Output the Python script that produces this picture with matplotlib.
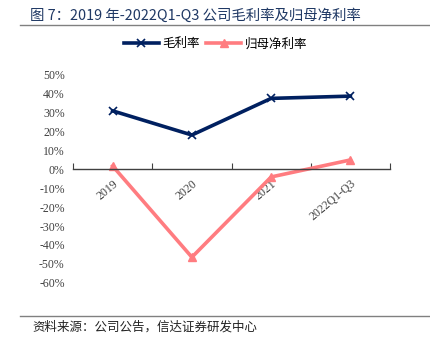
import matplotlib
matplotlib.use("Agg")
import matplotlib.pyplot as plt
from matplotlib.lines import Line2D
from matplotlib.ticker import FuncFormatter, MultipleLocator

plt.rcParams["font.family"] = ["Liberation Serif", "Noto Sans CJK SC"]

# data (percent)
categories = ["2019", "2020", "2021", "2022Q1-Q3"]
gross_margin = [31.0, 18.2, 37.6, 38.8]
net_margin = [1.8, -46.5, -4.0, 5.0]
series_names = ["毛利率", "归母净利率"]

title = "图 7：2019 年-2022Q1-Q3 公司毛利率及归母净利率"
source = "资料来源：公司公告，信达证券研发中心"

NAVY = "#002060"
PINK = "#FF7C80"
TEXT = "#404040"

fig = plt.figure(figsize=(4.31, 3.40), dpi=100)

# title + rules
fig.text(0.07, 0.955, title, fontsize=10.4, color="#1F3864",
         family=["Noto Sans CJK SC", "DejaVu Sans"], va="center", ha="left")
fig.add_artist(Line2D([0.046, 1.0], [0.926, 0.926], color="#808080", lw=1.0))
fig.add_artist(Line2D([0.046, 1.0], [0.07, 0.07], color="#808080", lw=1.0))
fig.text(0.075, 0.038, source, fontsize=9, color="#222222", style="italic",
         family=["Noto Sans CJK SC", "DejaVu Sans"], va="center", ha="left")

ax = fig.add_axes([0.1694, 0.1685, 0.7355, 0.611])
xs = [i + 0.5 for i in range(len(categories))]

l1, = ax.plot(xs, gross_margin, color=NAVY, lw=2.6, marker="x", ms=6, mew=1.2,
              label=series_names[0])
l2, = ax.plot(xs, net_margin, color=PINK, lw=2.6, marker="^", ms=6,
              label=series_names[1])

ax.set_xlim(0, len(categories))
ax.set_ylim(-60, 50)
ax.yaxis.set_major_locator(MultipleLocator(10))
ax.yaxis.set_major_formatter(FuncFormatter(lambda v, p: f"{v:.0f}%"))

for s in ["top", "right", "left"]:
    ax.spines[s].set_visible(False)
ax.spines["bottom"].set_position(("data", 0))
ax.spines["bottom"].set_color("#404040")
ax.spines["bottom"].set_linewidth(1.0)

ax.set_xticks(range(len(categories) + 1))
ax.set_xticklabels([])
ax.tick_params(axis="x", which="major", direction="in", length=4, color="#404040")
ax.set_xticks(xs, minor=True)
ax.set_xticklabels(categories, minor=True, rotation=40, ha="right",
                   rotation_mode="anchor", fontsize=8.5, color=TEXT)
ax.tick_params(axis="x", which="minor", length=0, pad=6)
ax.tick_params(axis="y", length=0, labelsize=8.5, labelcolor=TEXT, pad=6)

fig.legend(handles=[l1, l2], loc="center", bbox_to_anchor=(0.5, 0.871), ncol=2,
           frameon=False, handlelength=2.8, columnspacing=0.5,
           handletextpad=0.3, prop={"family": ["Noto Sans CJK SC"], "size": 9})

fig.savefig("out.png", dpi=100)
